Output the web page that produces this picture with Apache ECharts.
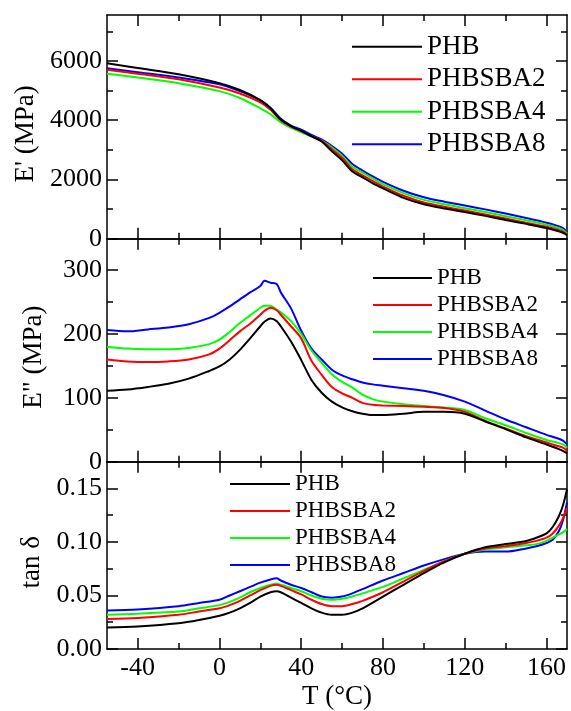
<!DOCTYPE html>
<html>
<head>
<meta charset="utf-8">
<script src="https://cdn.jsdelivr.net/npm/echarts@6/dist/echarts.min.js"></script>
<style>
html,body{margin:0;padding:0;background:#fff;}
#chart{width:571px;height:711px;}
</style>
</head>
<body>
<div id="chart"></div>
<script>
// ---------- data ----------
const seriesNames = ['PHB', 'PHBSBA2', 'PHBSBA4', 'PHBSBA8'];
const xMajorTicks = [-40, 0, 40, 80, 120, 160];
const xMinorTicks = [-40, -20, 0, 20, 40, 60, 80, 100, 120, 140, 160];

// Panel 1: E' (MPa)
const T1 = [-55, -40, -20, 0, 10, 20, 25, 30, 35, 40, 45, 50, 55, 60, 65, 70, 75, 80, 90, 100, 110, 120, 130, 140, 150, 160, 165, 168, 170];
const E1_PHB     = [5920, 5760, 5550, 5250, 5020, 4680, 4400, 4020, 3800, 3640, 3460, 3280, 2950, 2650, 2270, 2070, 1870, 1700, 1380, 1160, 1020, 900, 770, 630, 500, 360, 270, 200, 120];
const E1_PHBSBA2 = [5700, 5570, 5380, 5100, 4900, 4600, 4350, 4000, 3780, 3630, 3460, 3300, 3020, 2730, 2340, 2140, 1940, 1760, 1450, 1220, 1080, 950, 820, 680, 540, 400, 310, 240, 150];
const E1_PHBSBA4 = [5570, 5440, 5250, 4980, 4750, 4400, 4200, 3930, 3740, 3600, 3450, 3310, 3080, 2800, 2430, 2230, 2030, 1840, 1540, 1310, 1160, 1030, 900, 760, 620, 470, 380, 300, 180];
const E1_PHBSBA8 = [5750, 5620, 5440, 5210, 4980, 4670, 4420, 4050, 3820, 3680, 3500, 3350, 3130, 2870, 2520, 2300, 2100, 1920, 1620, 1400, 1250, 1120, 990, 850, 700, 540, 440, 360, 220];
const Y1_labels = [0, 2000, 4000, 6000];
const Y1_minor = [0, 1000, 2000, 3000, 4000, 5000, 6000, 7000];

// Panel 2: E'' (MPa)
const T2 = [-55, -45, -35, -25, -15, -5, 0, 5, 10, 15, 20, 22, 25, 28, 30, 35, 40, 45, 50, 55, 60, 65, 70, 75, 80, 90, 100, 110, 120, 130, 140, 150, 160, 165, 168, 170];
const E2_PHB     = [111, 113, 117, 122, 130, 142, 149, 160, 175, 193, 212, 219, 224, 220, 212, 188, 159, 128, 108, 94, 85, 79, 75, 73, 73, 75, 78, 78, 75, 63, 51, 38, 27, 21, 17, 13];
const E2_PHBSBA2 = [160, 157, 156, 157, 160, 168, 177, 190, 204, 216, 230, 236, 241, 237, 230, 212, 193, 158, 136, 117, 107, 100, 92, 89, 88, 87, 86, 84, 78, 64, 52, 40, 30, 25, 22, 17];
const E2_PHBSBA4 = [180, 177, 176, 176, 178, 184, 191, 203, 217, 229, 241, 244, 244, 238, 234, 220, 200, 174, 155, 137, 125, 116, 105, 98, 94, 90, 87, 85, 81, 68, 57, 45, 34, 30, 27, 22];
const E2_PHBSBA8 = [206, 204, 207, 210, 215, 225, 233, 243, 254, 265, 275, 283, 280, 278, 265, 240, 205, 177, 160, 144, 135, 129, 124, 121, 119, 115, 111, 104, 94, 80, 66, 54, 42, 37, 33, 27];
const Y2_labels = [0, 100, 200, 300];
const Y2_minor = [0, 50, 100, 150, 200, 250, 300];

// Panel 3: tan delta
const T3 = [-55, -40, -20, -10, 0, 5, 10, 15, 20, 25, 28, 30, 35, 40, 45, 50, 55, 60, 65, 70, 80, 90, 100, 110, 120, 130, 140, 150, 155, 160, 163, 166, 168, 170];
const D3_PHB     = [0.020, 0.021, 0.024, 0.027, 0.031, 0.034, 0.038, 0.043, 0.049, 0.053, 0.054, 0.053, 0.048, 0.043, 0.038, 0.034, 0.032, 0.032, 0.034, 0.038, 0.049, 0.060, 0.071, 0.081, 0.089, 0.095, 0.098, 0.101, 0.104, 0.108, 0.114, 0.124, 0.134, 0.149];
const D3_PHBSBA2 = [0.028, 0.029, 0.032, 0.035, 0.038, 0.041, 0.045, 0.050, 0.055, 0.059, 0.060, 0.059, 0.055, 0.051, 0.046, 0.042, 0.040, 0.040, 0.042, 0.045, 0.053, 0.063, 0.073, 0.082, 0.089, 0.094, 0.096, 0.099, 0.101, 0.104, 0.108, 0.115, 0.122, 0.132];
const D3_PHBSBA4 = [0.032, 0.033, 0.035, 0.038, 0.041, 0.044, 0.048, 0.053, 0.057, 0.060, 0.061, 0.060, 0.057, 0.054, 0.050, 0.047, 0.046, 0.047, 0.049, 0.052, 0.058, 0.066, 0.074, 0.082, 0.089, 0.093, 0.095, 0.097, 0.098, 0.101, 0.104, 0.107, 0.109, 0.112];
const D3_PHBSBA8 = [0.036, 0.037, 0.040, 0.043, 0.046, 0.050, 0.054, 0.058, 0.062, 0.065, 0.066, 0.064, 0.060, 0.057, 0.053, 0.049, 0.048, 0.049, 0.052, 0.056, 0.064, 0.071, 0.078, 0.084, 0.089, 0.091, 0.091, 0.094, 0.096, 0.099, 0.102, 0.110, 0.120, 0.137];
const Y3_labels = [0, 0.05, 0.10, 0.15];
const Y3_minor = [0, 0.025, 0.05, 0.075, 0.10, 0.125, 0.15];

// ---------- chart ----------
const FONT = '"Liberation Serif", "Times New Roman", serif';
const colors = ['#000000', '#ff0000', '#00ff00', '#0000ff'];
const X_MIN = -55, X_MAX = 170;

const panels = [
  { T: T1, vals: [E1_PHB, E1_PHBSBA2, E1_PHBSBA4, E1_PHBSBA8], ymin: 0, ymax: 7550, labels: Y1_labels, minor: Y1_minor,
    name: "E' (MPa)", nameGap: 65, fmt: v => String(Math.round(v)) },
  { T: T2, vals: [E2_PHB, E2_PHBSBA2, E2_PHBSBA4, E2_PHBSBA8], ymin: 0, ymax: 349, labels: Y2_labels, minor: Y2_minor,
    name: 'E" (MPa)', nameGap: 60, fmt: v => String(Math.round(v)) },
  { T: T3, vals: [D3_PHB, D3_PHBSBA2, D3_PHBSBA4, D3_PHBSBA8], ymin: 0, ymax: 0.175, labels: Y3_labels, minor: Y3_minor,
    name: 'tan \u03b4', nameGap: 60, fmt: v => v.toFixed(2) }
];

const grids = [
  { left: 107, right: 4, top: 15, height: 223.7 },
  { left: 107, right: 4, top: 238.7, height: 223 },
  { left: 107, right: 4, top: 461.7, height: 187.3 }
];

const lineStyleAxis = { color: '#000', width: 1.5 };
const xAxes = [], yAxes = [], series = [];

panels.forEach((p, gi) => {
  const isBottom = gi === 2;
  const base = { type: 'value', gridIndex: gi, min: X_MIN, max: X_MAX, splitLine: { show: false } };
  // main bottom x axis
  xAxes.push(Object.assign({}, base, {
    position: 'bottom',
    axisLine: { show: true, onZero: false, lineStyle: lineStyleAxis },
    axisTick: { show: true, inside: true, length: 11, lineStyle: lineStyleAxis, customValues: xMajorTicks },
    axisLabel: { show: isBottom, customValues: xMajorTicks, margin: 6, color: '#000', fontFamily: FONT, fontSize: 26 },
    name: isBottom ? 'T (\u00b0C)' : '', nameLocation: 'middle', nameGap: 34,
    nameTextStyle: { color: '#000', fontFamily: FONT, fontSize: 27 }
  }));
  // minor bottom
  xAxes.push(Object.assign({}, base, {
    position: 'bottom',
    axisLine: { show: false, onZero: false },
    axisTick: { show: true, inside: true, length: 6, lineStyle: lineStyleAxis, customValues: xMinorTicks },
    axisLabel: { show: false }
  }));
  // top major
  xAxes.push(Object.assign({}, base, {
    position: 'top',
    axisLine: { show: true, onZero: false, lineStyle: lineStyleAxis },
    axisTick: { show: true, inside: true, length: 11, lineStyle: lineStyleAxis, customValues: xMajorTicks },
    axisLabel: { show: false }
  }));
  // top minor
  xAxes.push(Object.assign({}, base, {
    position: 'top',
    axisLine: { show: false, onZero: false },
    axisTick: { show: true, inside: true, length: 6, lineStyle: lineStyleAxis, customValues: xMinorTicks },
    axisLabel: { show: false }
  }));

  const ybase = { type: 'value', gridIndex: gi, min: p.ymin, max: p.ymax, splitLine: { show: false } };
  yAxes.push(Object.assign({}, ybase, {
    position: 'left',
    axisLine: { show: true, onZero: false, lineStyle: lineStyleAxis },
    axisTick: { show: true, inside: true, length: 11, lineStyle: lineStyleAxis, customValues: p.labels },
    axisLabel: { show: true, customValues: p.labels, margin: 5, color: '#000', fontFamily: FONT, fontSize: 26, formatter: p.fmt },
    name: p.name, nameLocation: 'middle', nameGap: p.nameGap, nameRotate: 90,
    nameTextStyle: { color: '#000', fontFamily: FONT, fontSize: 27, padding: [0, 14, 0, 0] }
  }));
  yAxes.push(Object.assign({}, ybase, {
    position: 'left',
    axisLine: { show: false, onZero: false },
    axisTick: { show: true, inside: true, length: 6, lineStyle: lineStyleAxis, customValues: p.minor },
    axisLabel: { show: false }
  }));
  yAxes.push(Object.assign({}, ybase, {
    position: 'right',
    axisLine: { show: true, onZero: false, lineStyle: lineStyleAxis },
    axisTick: { show: true, inside: true, length: 11, lineStyle: lineStyleAxis, customValues: p.labels },
    axisLabel: { show: false }
  }));
  yAxes.push(Object.assign({}, ybase, {
    position: 'right',
    axisLine: { show: false, onZero: false },
    axisTick: { show: true, inside: true, length: 6, lineStyle: lineStyleAxis, customValues: p.minor },
    axisLabel: { show: false }
  }));

  p.vals.forEach((vals, si) => {
    series.push({
      type: 'line',
      name: seriesNames[si],
      xAxisIndex: gi * 4,
      yAxisIndex: gi * 4,
      data: p.T.map((t, i) => [t, vals[i]]),
      showSymbol: false,
      symbol: 'none',
      smooth: 0.3,
      lineStyle: { color: colors[si], width: 2 },
      itemStyle: { color: colors[si] },
      silent: true,
      z: 10 - si
    });
  });
});

const legendBase = {
  orient: 'vertical', icon: 'rect', itemHeight: 2, padding: 0,
  data: seriesNames, selectedMode: false
};
const legends = [
  Object.assign({}, legendBase, { left: 352, top: 32.7, itemWidth: 70, itemGap: 4.5,
    textStyle: { color: '#000', fontFamily: FONT, fontSize: 27, lineHeight: 28 } }),
  Object.assign({}, legendBase, { left: 373, top: 266, itemWidth: 59, itemGap: 3,
    textStyle: { color: '#000', fontFamily: FONT, fontSize: 23, lineHeight: 24 } }),
  Object.assign({}, legendBase, { left: 230, top: 472, itemWidth: 60, itemGap: 3,
    textStyle: { color: '#000', fontFamily: FONT, fontSize: 23, lineHeight: 24 } })
];

const chart = echarts.init(document.getElementById('chart'), null, { renderer: 'canvas' });
chart.setOption({
  animation: false,
  backgroundColor: '#fff',
  color: colors,
  grid: grids,
  legend: legends,
  xAxis: xAxes,
  yAxis: yAxes,
  series: series
});
</script>
</body>
</html>
